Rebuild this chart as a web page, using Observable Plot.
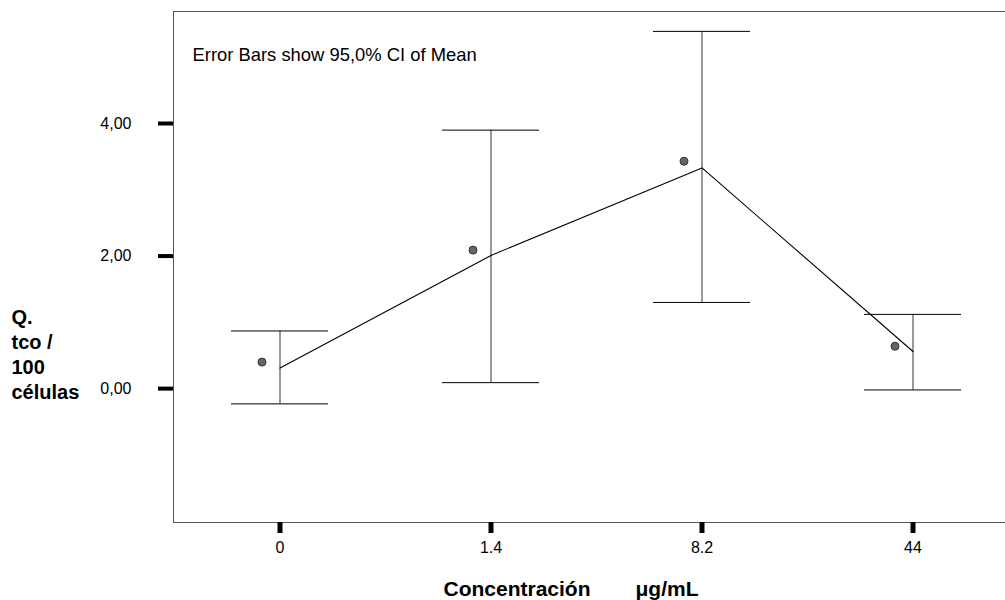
<!DOCTYPE html>
<html>
<head>
<meta charset="utf-8">
<script src="https://cdn.jsdelivr.net/npm/d3@7"></script>
<script src="https://cdn.jsdelivr.net/npm/@observablehq/plot@0.6"></script>
<style>
  html, body { margin: 0; padding: 0; overflow: hidden; background: white; }
  svg { max-width: none !important; }
</style>
</head>
<body>
<div id="chart"></div>
<script>
// Concentration categories (µg/mL)
const categories = ["0", "1.4", "8.2", "44"];
// Mean values (connected by the line)
const means = [0.31, 2.01, 3.33, 0.56];
// 95% CI lower / upper bounds
const ciLower = [-0.23, 0.09, 1.30, -0.02];
const ciUpper = [0.87, 3.90, 5.39, 1.12];
// Point markers
const points = [0.40, 2.09, 3.43, 0.64];
// Y tick values
const yTicks = [0, 2, 4];

const rows = categories.map((c, i) => ({
  conc: c, mean: means[i], lo: ciLower[i], hi: ciUpper[i], pt: points[i]
}));

const fmt = d => d.toFixed(2).replace(".", ",");

const chart = Plot.plot({
  width: 1020,
  height: 600,
  marginLeft: 173,
  marginRight: 1,
  marginTop: 11,
  marginBottom: 78,
  style: { fontFamily: "'Liberation Sans', Arial, sans-serif", background: "white", color: "black", maxWidth: "none" },
  x: { type: "band", domain: categories, padding: 0, label: null },
  y: { domain: [-2.02, 5.69], label: null },
  marks: [
    Plot.frame({ stroke: "#555" }),
    Plot.axisY({ ticks: yTicks, tickFormat: fmt, tickSize: 15, tickPadding: 27, strokeWidth: 4, fontSize: 16, label: null }),
    Plot.axisX({ tickSize: 11, tickPadding: 8, strokeWidth: 5, fontSize: 16, label: null }),
    Plot.ruleX(rows, { x: "conc", y1: "lo", y2: "hi", stroke: "#555", strokeWidth: 1.2 }),
    Plot.tickY(rows, { x: "conc", y: "lo", inset: 57, stroke: "black" }),
    Plot.tickY(rows, { x: "conc", y: "hi", inset: 57, stroke: "black" }),
    Plot.line(rows, { x: "conc", y: "mean", stroke: "black", strokeWidth: 1.1 }),
    Plot.dot(rows, { x: "conc", y: "pt", dx: -18, r: 4, fill: "#666", stroke: "#333", strokeWidth: 1 }),
    Plot.text(["Error Bars show 95,0% CI of Mean"], {
      frameAnchor: "top-left", dx: 19, dy: 36, textAnchor: "start", lineAnchor: "top", fontSize: 18.4, fill: "black"
    }),
    Plot.text(["Q.\ntco /\n100\ncélulas"], {
      frameAnchor: "top-left", dx: -162, dy: 295, textAnchor: "start", lineAnchor: "top",
      fontSize: 20, fontWeight: "bold", lineHeight: 1.24, fill: "black"
    }),
    Plot.text(["Concentración"], {
      frameAnchor: "bottom-left", dx: 270, dy: 58.7, textAnchor: "start", lineAnchor: "top",
      fontSize: 21, fontWeight: "bold", fill: "black"
    }),
    Plot.text(["μg/mL"], {
      frameAnchor: "bottom-left", dx: 462, dy: 58.7, textAnchor: "start", lineAnchor: "top",
      fontSize: 21, fontWeight: "bold", fill: "black"
    })
  ]
});
document.getElementById("chart").appendChild(chart);
</script>
</body>
</html>
